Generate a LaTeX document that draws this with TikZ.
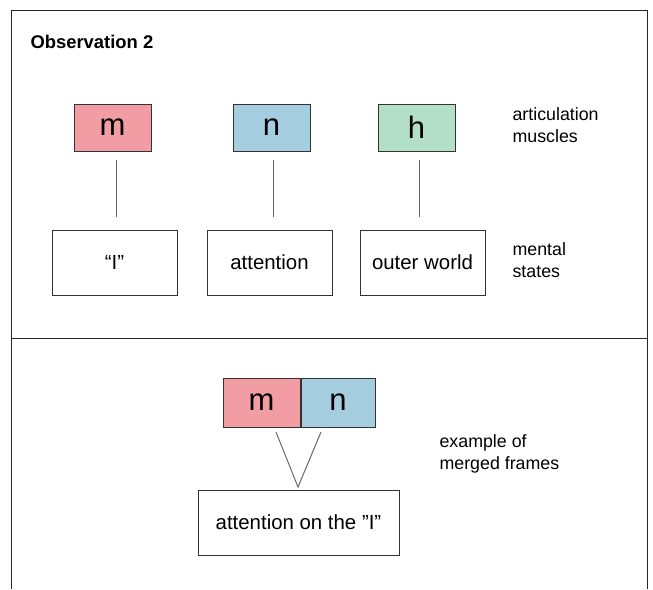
\documentclass[tikz,border=0pt]{standalone}
\usepackage{fontspec}
\setmainfont{Liberation Sans}
\usepackage{xcolor}
\usetikzlibrary{positioning}

\definecolor{mpink}{HTML}{F29CA3}
\definecolor{nblue}{HTML}{A5CDE0}
\definecolor{hgreen}{HTML}{B3DFC8}

\begin{document}
\begin{tikzpicture}[
      x=0.5pt, y=-0.5pt,
      font=\fontsize{10.2}{12}\selectfont,
      title/.style={font=\fontsize{9.2}{11}\selectfont\bfseries, anchor=west},
      frame/.style={draw=black!85, line width=0.5pt},
      letterbox/.style={draw=black!80, line width=0.5pt, minimum width=38.5pt, minimum height=23.5pt, inner sep=0pt, font=\fontsize{15.5}{16}\selectfont},
      statebox/.style={draw=black!80, line width=0.5pt, minimum width=62.5pt, minimum height=32.5pt, inner sep=0pt},
      link/.style={draw=black!60, line width=0.5pt},
      sidetext/.style={font=\fontsize{8.9}{11}\selectfont, anchor=west, align=left}
  ]
    \useasboundingbox (0,0) rectangle (653,589);

    % frame of the two panels
    \draw[frame] (11,589) -- (11,10) -- (647,10) -- (647,589);
    \draw[frame] (11,338) -- (647,338);

    \node[title] (obs) at (23.5,42) {Observation 2};

    % upper panel
    \node[letterbox, fill=mpink] (m) at (112.5,127.5) {m};
    \node[letterbox, fill=nblue] (n) at (271.5,127.5) {n};
    \node[letterbox, fill=hgreen] (h) at (416.5,127.5) {h};

    \node[statebox] (ich) at (114.5,262.5) {“I”};
    \node[statebox] (att) at (269.5,262.5) {attention};
    \node[statebox] (outer) at (422.5,262.5) {outer world};

    \draw[link] ([yshift=-4pt]m.south -| 116,0) -- ([yshift=6.5pt]ich.north -| 116,0);
    \draw[link] ([yshift=-4pt]n.south -| 273,0) -- ([yshift=6.5pt]att.north -| 273,0);
    \draw[link] ([yshift=-4pt]h.south -| 419,0) -- ([yshift=6.5pt]outer.north -| 419,0);

    \node[sidetext] (muscles) at (505.5,125) {articulation\\muscles};
    \node[sidetext] (mental) at (505.5,260) {mental\\states};

    % lower panel
    \node[letterbox, fill=mpink, minimum height=24.5pt] (mm) at (261.5,402.5) {m};
    \node[letterbox, fill=nblue, minimum width=37pt, minimum height=24.5pt, right=0pt of mm] (mn) {n};

    \node[statebox, minimum width=100.5pt] (merged) at (298.5,522.5) {attention on the ”I”};
    \coordinate (tip) at (298,487);

    \draw[link] (276,432) -- (tip) -- (321,432);

    \node[sidetext] (example) at (432.5,454) {example of\\merged frames};
\end{tikzpicture}
\end{document}
